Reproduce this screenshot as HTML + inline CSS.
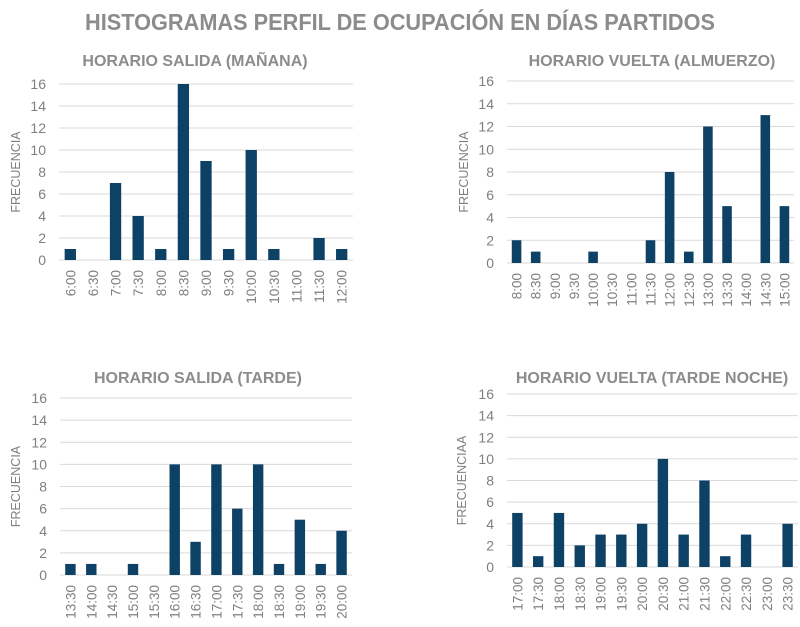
<!DOCTYPE html>
<html><head><meta charset="utf-8"><style>
body{margin:0;background:#fff;width:800px;height:622px;overflow:hidden;font-family:"Liberation Sans",sans-serif}
svg text{font-family:"Liberation Sans",sans-serif}
</style></head><body>
<svg id="s" width="800" height="622" xmlns="http://www.w3.org/2000/svg">
<text x="400" y="30" text-anchor="middle" font-size="23" font-weight="bold" fill="#8c8c8c" textLength="630" lengthAdjust="spacingAndGlyphs">HISTOGRAMAS PERFIL DE OCUPACIÓN EN DÍAS PARTIDOS</text>
</svg>
<script>
const cats1=["6:00","6:30","7:00","7:30","8:00","8:30","9:00","9:30","10:00","10:30","11:00","11:30","12:00"];
const vals1=[1,0,7,4,1,16,9,1,10,1,0,2,1];
const cats2=["8:00","8:30","9:00","9:30","10:00","10:30","11:00","11:30","12:00","12:30","13:00","13:30","14:00","14:30","15:00"];
const vals2=[2,1,0,0,1,0,0,2,8,1,12,5,0,13,5];
const cats3=["13:30","14:00","14:30","15:00","15:30","16:00","16:30","17:00","17:30","18:00","18:30","19:00","19:30","20:00"];
const vals3=[1,1,0,1,0,10,3,10,6,10,1,5,1,4];
const cats4=["17:00","17:30","18:00","18:30","19:00","19:30","20:00","20:30","21:00","21:30","22:00","22:30","23:00","23:30"];
const vals4=[5,1,5,2,3,3,4,10,3,8,1,3,0,4];
const yTicks=[0,2,4,6,8,10,12,14,16];
const titles=["HORARIO SALIDA (MAÑANA)","HORARIO VUELTA (ALMUERZO)","HORARIO SALIDA (TARDE)","HORARIO VUELTA (TARDE NOCHE)"];
const yTitles=["FRECUENCIA","FRECUENCIA","FRECUENCIA","FRECUENCIAA"];
const NS="http://www.w3.org/2000/svg";
const svg=document.getElementById('s');
function mk(t,a,p){const e=document.createElementNS(NS,t);for(const k in a)e.setAttribute(k,a[k]);(p||svg).appendChild(e);return e;}
const boxes=[{x0:59,x1:353,yTop:84,yBot:260,tx:195,ty:66,ax:20,tname:'chart-manana'},
{x0:507,x1:794,yTop:81,yBot:263,tx:652,ty:66,ax:468,tname:'chart-almuerzo'},
{x0:60,x1:352,yTop:398,yBot:575,tx:198,ty:383,ax:20,tname:'chart-tarde'},
{x0:507,x1:798,yTop:394,yBot:567,tx:652,ty:383,ax:466,tname:'chart-tarde-noche'}];
const cats=[cats1,cats2,cats3,cats4],vals=[vals1,vals2,vals3,vals4];
boxes.forEach((b,i)=>{
 const g=mk('g',{});
 
 
 const yS=v=>b.yBot-(v/16)*(b.yBot-b.yTop);
 const n=cats[i].length,step=(b.x1-b.x0)/n;
 const xS=k=>b.x0+step*(k+0.5);
 const t=mk('text',{x:b.tx,y:b.ty,'text-anchor':'middle','font-size':16,'font-weight':'bold',fill:'#8c8c8c'},g);t.textContent=titles[i];
 
 
 yTicks.forEach(v=>{
  const l=mk('line',{x1:b.x0,x2:b.x1,y1:yS(v),y2:yS(v),stroke:'#d9d9d9','stroke-width':1},g);
  
  
  const tl=mk('text',{x:b.x0-13,y:yS(v)+5,'text-anchor':'end','font-size':14,fill:'#7f7f7f'},g);tl.textContent=v;
  
  
 });
 const yc=(b.yTop+b.yBot)/2;
 const at=mk('text',{x:b.ax,y:yc,'text-anchor':'middle','font-size':12.5,fill:'#7f7f7f',transform:`rotate(-90 ${b.ax} ${yc})`},g);at.textContent=yTitles[i];
 
 
 const bw=step*0.5;
 cats[i].forEach((c,k)=>{
  const v=vals[i][k];
  const r=mk('rect',{x:xS(k)-bw/2,y:yS(v),width:bw,height:b.yBot-yS(v),fill:'#0e4166'},g);
  
  
  const x=xS(k)+5,y=b.yBot+10;
  const xl=mk('text',{x:x,y:y,'text-anchor':'end','font-size':13.5,fill:'#7f7f7f',transform:`rotate(-90 ${x} ${y})`},g);xl.textContent=c;
  
  
 });
});
</script>
</body></html>
